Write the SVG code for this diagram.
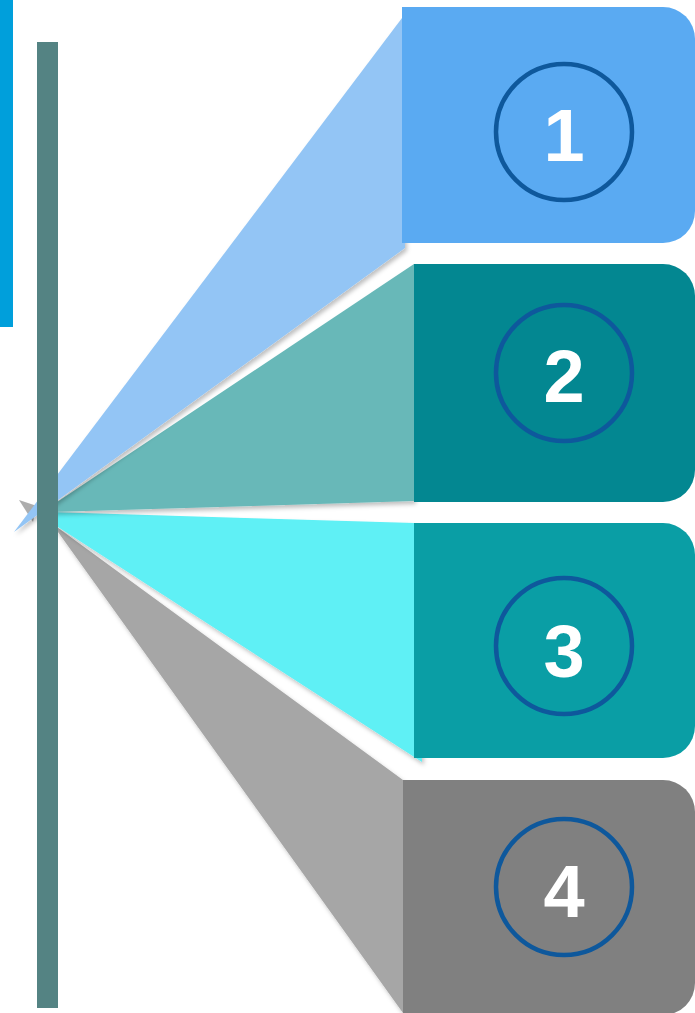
<svg xmlns="http://www.w3.org/2000/svg" width="695" height="1013" viewBox="0 0 695 1013">
<defs>
<filter id="sh" x="-10%" y="-10%" width="120%" height="120%">
<feDropShadow dx="2" dy="3" stdDeviation="2" flood-color="#000" flood-opacity="0.25"/>
</filter>
<style>
.ring{fill:none;stroke:#0E589C;stroke-width:4.5}
.num{font-family:"Liberation Sans",Arial,sans-serif;font-weight:bold;font-size:74px;fill:#fff;text-anchor:middle}
</style>
</defs>
<rect width="695" height="1013" fill="#fff"/>
<rect x="0" y="0" width="13" height="327" fill="#009FDB"/>
<g id="connectors">
<polygon points="19,500 37,506 33,522" fill="#8a8a8a" opacity="0.7"/>
<polygon points="403,780 403,1013 58,532 50,522" fill="#A6A6A6" filter="url(#sh)"/>
<polygon points="414,523 422,762 58,527 50,512" fill="#5EF0F5" filter="url(#sh)"/>
<polygon points="414,264 414,501 52,512 48,508" fill="#67B8B8" filter="url(#sh)"/>
<polygon points="402,18 405,248 14,532" fill="#93C5F5" filter="url(#sh)"/>
</g>
<rect x="37" y="42" width="21" height="966" fill="#548383"/>
<g id="node1">
<path d="M402,7 H663 A32,32 0 0 1 695,39 V211 A32,32 0 0 1 663,243 H402 Z" fill="#5AAAF2"/>
<circle class="ring" cx="564" cy="132" r="68"/>
<text class="num" x="564" y="161">1</text>
</g>
<g id="node2">
<path d="M414,264 H663 A32,32 0 0 1 695,296 V470 A32,32 0 0 1 663,502 H414 Z" fill="#038791"/>
<circle class="ring" cx="564" cy="373" r="68"/>
<text class="num" x="564" y="402">2</text>
</g>
<g id="node3">
<path d="M414,523 H663 A32,32 0 0 1 695,555 V726 A32,32 0 0 1 663,758 H414 Z" fill="#0A9EA5"/>
<circle class="ring" cx="564" cy="646" r="68"/>
<text class="num" x="564" y="677">3</text>
</g>
<g id="node4">
<path d="M403,780 H663 A32,32 0 0 1 695,812 V983 A32,32 0 0 1 663,1015 H403 Z" fill="#808080"/>
<circle class="ring" cx="564" cy="887" r="68"/>
<text class="num" x="564" y="917">4</text>
</g>
</svg>
